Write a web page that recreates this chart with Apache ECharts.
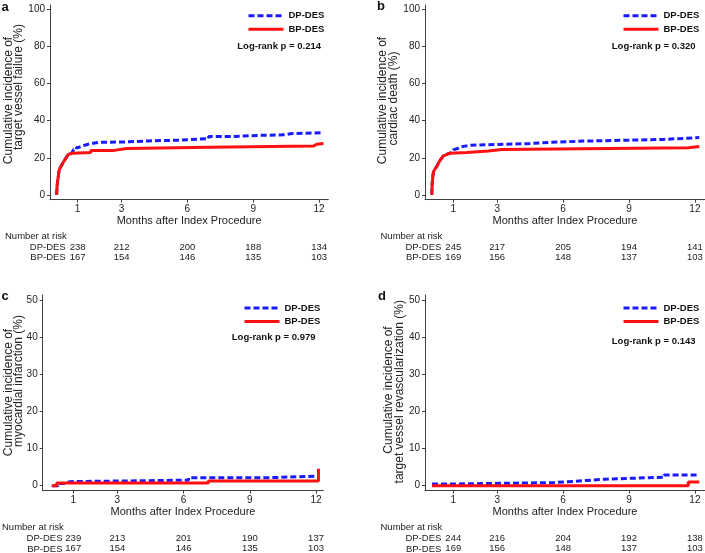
<!DOCTYPE html>
<html><head><meta charset="utf-8">
<script src="https://cdn.jsdelivr.net/npm/echarts@6/dist/echarts.min.js"></script>
<style>html,body{margin:0;padding:0;background:#fff}#c{width:705px;height:553px}</style>
</head><body><div id="c"></div>
<script>
// ---- data ----
const monthTicks = [1, 3, 6, 9, 12];
const yTicksAB = [0, 20, 40, 60, 80, 100];
const yTicksCD = [0, 10, 20, 30, 40, 50];
const seriesNames = ['DP-DES', 'BP-DES'];

// a: target vessel failure  [month, cumulative incidence %]
const tvfDP = [[0.04,0],[0.06,4],[0.09,8],[0.12,10],[0.15,13],[0.2,14.5],[0.27,16],[0.34,17.5],[0.42,19],[0.5,20.5],[0.57,21.8],[0.65,22.5],[0.73,23.3],[0.82,24.5],[0.95,25.6],[1.05,26.2],[1.18,26.8],[1.33,27.3],[1.48,27.8],[1.7,28.3],[1.94,28.6],[3.31,29.1],[4.2,29.5],[5.59,30.3],[6.97,31.5],[8.02,32.1],[9.3,32.4],[10.45,33.0],[10.68,33.5],[12.2,33.5]];
const tvfBP = [[0.04,0],[0.06,4],[0.09,8],[0.12,10],[0.15,13],[0.2,14.5],[0.27,16],[0.34,17.5],[0.42,19],[0.5,20.5],[0.57,21.8],[0.65,22.4],[0.75,22.8],[1.6,24.0],[2.66,25.0],[3.23,25.7],[7.03,26.3],[11.74,27.3],[11.89,27.7],[12.2,27.7]];
// b: cardiac death
const cdDP = [[0.02,0],[0.04,6],[0.07,10],[0.1,12.4],[0.17,14],[0.24,15.1],[0.32,17],[0.39,18.4],[0.47,19.8],[0.55,21],[0.62,21.8],[0.7,22.4],[0.8,22.8],[0.93,23.4],[1.0,24.3],[1.08,25.0],[1.2,25.8],[1.31,26.3],[1.53,26.8],[1.8,27.2],[3.0,27.7],[4.49,28.3],[5.33,29.0],[6.92,29.9],[10.56,30.9],[12.2,30.9]];
const cdBP = [[0.02,0],[0.04,6],[0.07,10],[0.1,12.4],[0.17,14],[0.24,15.1],[0.32,17],[0.39,18.4],[0.47,19.8],[0.55,21],[0.62,22],[0.75,22.5],[0.85,22.9],[1.61,23.7],[2.6,24.5],[3.2,25.4],[11.7,26.1],[12.2,26.1]];
// c: myocardial infarction
const miDP = [[0.05,0],[0.32,0.6],[0.63,1.1],[0.85,1.5],[6.22,2.15],[9.77,2.6],[12.11,2.6]];
const miBP = [[0.02,0],[0.25,0.7],[7.12,1.3],[12.11,4.6]];
// d: target vessel revascularization
const tvrDP = [[0.03,0.45],[0.86,0.85],[5.6,1.35],[6.93,1.77],[7.91,2.3],[10.6,2.9],[12.2,2.9]];
const tvrBP = [[0.03,0],[11.7,1.0],[12.2,1.0]];

// number at risk
const riskTvfDP = [238, 212, 200, 188, 134];
const riskTvfBP = [167, 154, 146, 135, 103];
const riskCdDP = [245, 217, 205, 194, 141];
const riskCdBP = [169, 156, 148, 137, 103];
const riskMiDP = [239, 213, 201, 190, 137];
const riskMiBP = [167, 154, 146, 135, 103];
const riskTvrDP = [244, 216, 204, 192, 138];
const riskTvrBP = [169, 156, 148, 137, 103];

const pValues = ['0.214', '0.320', '0.979', '0.143'];
const panelLetters = ['a', 'b', 'c', 'd'];
const yTitles = [
  ['Cumulative incidence of', 'target vessel failure (%)'],
  ['Cumulative incidence of', 'cardiac death (%)'],
  ['Cumulative incidence of', 'myocardial infarction (%)'],
  ['Cumulative incidence of', 'target vessel revascularization (%)']
];
const xTitle = 'Months after Index Procedure';

// ---- layout ----
const FONT = '"Liberation Sans", Arial, sans-serif';
const AX = '#404040', TX = '#222';
const panels = [
  {grid:{left:50,top:5,width:278.3,height:194.7}, xr:[-0.26,12.42], yr:[-2.6,102.4], yt:yTicksAB, dp:tvfDP, bp:tvfBP, rdp:riskTvfDP, rbp:riskTvfBP,
   letter:[1.5,7], yt1:[9,100.5], yt2:[19,87], leg:[247,10.7], lr:[321,46.7], nar:[5,236], rowR:65.7},
  {grid:{left:425,top:5,width:280,height:194.7}, xr:[-0.287,12.46], yr:[-2.6,102.4], yt:yTicksAB, dp:cdDP, bp:cdBP, rdp:riskCdDP, rbp:riskCdBP,
   letter:[377,6.5], yt1:[383,100.5], yt2:[394,98.5], leg:[622,10.7], lr:[695.5,46.7], nar:[380.5,236], rowR:441.3},
  {grid:{left:42.7,top:295,width:280.6,height:195.7}, xr:[-0.385,12.33], yr:[-1.35,51.54], yt:yTicksCD, dp:miDP, bp:miBP, rdp:riskMiDP, rbp:riskMiBP,
   letter:[1.5,296.5], yt1:[8.7,392.5], yt2:[18.7,381], leg:[243,303], lr:[315.5,337.3], nar:[2,527.3], rowR:62.5},
  {grid:{left:425,top:295,width:280,height:195.7}, xr:[-0.287,12.46], yr:[-1.35,51.54], yt:yTicksCD, dp:tvrDP, bp:tvrBP, rdp:riskTvrDP, rbp:riskTvrBP,
   letter:[378,296], yt1:[388.7,390], yt2:[399.3,391.7], leg:[622,303], lr:[695.5,341], nar:[380.5,527.3], rowR:441.3}
];

const grids = [], xAxes = [], yAxes = [], series = [], legends = [], graphics = [];
panels.forEach((p, i) => {
  grids.push(Object.assign({containLabel:false, outerBoundsMode:'none'}, p.grid));
  xAxes.push({gridIndex:i, type:'value', min:p.xr[0], max:p.xr[1], position:'bottom',
    name:xTitle, nameLocation:'middle', nameGap:15,
    nameTextStyle:{fontSize:11, color:TX, fontFamily:FONT},
    axisLine:{show:true, onZero:false, lineStyle:{color:AX, width:1}},
    axisTick:{show:true, length:3, customValues:monthTicks, lineStyle:{color:AX}},
    axisLabel:{customValues:monthTicks, margin:5, fontSize:10, color:TX, fontFamily:FONT},
    splitLine:{show:false}});
  xAxes.push({gridIndex:i, type:'value', min:p.xr[0], max:p.xr[1], position:'bottom', offset:40,
    axisLine:{show:false}, axisTick:{show:false}, splitLine:{show:false},
    axisLabel:{customValues:monthTicks, margin:2, fontSize:9.5, lineHeight:10.7, color:TX, fontFamily:FONT,
      formatter:(v) => { const k = monthTicks.indexOf(v); return k < 0 ? '' : p.rdp[k] + '\n' + p.rbp[k]; }}});
  yAxes.push({gridIndex:i, type:'value', min:p.yr[0], max:p.yr[1],
    axisLine:{show:true, onZero:false, lineStyle:{color:AX, width:1}},
    axisTick:{show:true, length:3, customValues:p.yt, lineStyle:{color:AX}},
    axisLabel:{customValues:p.yt, margin:5, fontSize:10, color:TX, fontFamily:FONT},
    splitLine:{show:false}});
  series.push({name:seriesNames[0], type:'line', step:'end', xAxisIndex:2*i, yAxisIndex:i, data:p.dp,
    showSymbol:false, symbol:'none', lineStyle:{color:'#1a1aff', width:3, type:[6,3]}, itemStyle:{color:'#1a1aff'}, z:2});
  series.push({name:seriesNames[1], type:'line', step:'end', xAxisIndex:2*i, yAxisIndex:i, data:p.bp,
    showSymbol:false, symbol:'none', lineStyle:{color:'#ff1010', width:3}, itemStyle:{color:'#ff1010'}, z:3});
  legends.push({left:p.leg[0], top:p.leg[1], orient:'vertical', padding:0, itemWidth:35, itemHeight:10, itemGap:3.6,
    selectedMode:false, data:seriesNames,
    itemStyle:{opacity:0, borderWidth:0},
    lineStyle:{width:3},
    textStyle:{fontSize:9.5, fontWeight:'bold', color:'#111', fontFamily:FONT, lineHeight:10}});
  graphics.push({type:'text', x:p.letter[0], y:p.letter[1], style:{text:panelLetters[i], font:'bold 13px ' + FONT, fill:'#111', align:'left', verticalAlign:'middle'}});
  graphics.push({type:'text', x:p.yt1[0], y:p.yt1[1], rotation:Math.PI/2, style:{text:yTitles[i][0], font:'12px ' + FONT, fill:TX, align:'center', verticalAlign:'middle'}});
  graphics.push({type:'text', x:p.yt2[0], y:p.yt2[1], rotation:Math.PI/2, style:{text:yTitles[i][1], font:'12px ' + FONT, fill:TX, align:'center', verticalAlign:'middle'}});
  graphics.push({type:'text', x:p.lr[0], y:p.lr[1], style:{text:'Log-rank p = ' + pValues[i], font:'bold 9.5px ' + FONT, fill:'#111', align:'right', verticalAlign:'middle'}});
  graphics.push({type:'text', x:p.nar[0], y:p.nar[1], style:{text:'Number at risk', font:'9.5px ' + FONT, fill:TX, align:'left', verticalAlign:'middle'}});
  graphics.push({type:'text', x:p.rowR, y:p.nar[1] + 11, style:{text:seriesNames[0], font:'9.5px ' + FONT, fill:TX, align:'right', verticalAlign:'middle'}});
  graphics.push({type:'text', x:p.rowR, y:p.nar[1] + 21.7, style:{text:seriesNames[1], font:'9.5px ' + FONT, fill:TX, align:'right', verticalAlign:'middle'}});
});

const chart = echarts.init(document.getElementById('c'), null, {renderer:'canvas', width:705, height:553});
chart.setOption({
  animation:false,
  backgroundColor:'#fff',
  textStyle:{fontFamily:FONT},
  grid:grids, xAxis:xAxes, yAxis:yAxes, series:series, legend:legends, graphic:graphics
});
</script>
</body></html>
